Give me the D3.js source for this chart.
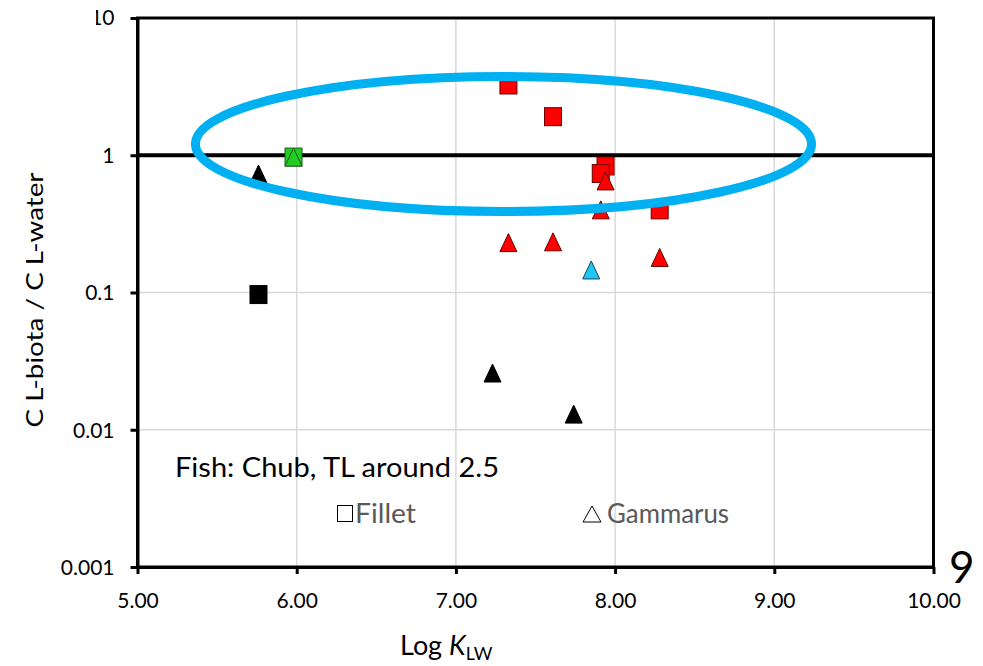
<!DOCTYPE html>
<html>
<head>
<meta charset="utf-8">
<script src="https://cdn.jsdelivr.net/npm/d3@7/dist/d3.min.js"></script>
<style>
  html, body { margin: 0; padding: 0; background: #fff; }
  svg { display: block; }
  text { font-family: Lato, "Open Sans", sans-serif; }
</style>
</head>
<body>
<svg id="chart" width="983" height="666"></svg>
<script>
// ---- data ----
const xTicks = [5, 6, 7, 8, 9, 10];
const xTickLabels = ["5.00", "6.00", "7.00", "8.00", "9.00", "10.00"];
const yTicks = [0.001, 0.01, 0.1, 1, 10];
const yTickLabels = ["0.001", "0.01", "0.1", "1", "10"];

// Fillet (squares)
const filletX = [5.76, 5.98, 7.33, 7.61, 7.94, 7.91, 8.28];
const filletY = [0.0966, 0.97, 3.25, 1.91, 0.835, 0.736, 0.40];
const filletGroup = ["black", "green", "red", "red", "red", "red", "red"];

// Gammarus (triangles)
const gammarusX = [5.76, 5.98, 7.33, 7.61, 7.91, 7.94, 8.28, 7.85, 7.23, 7.74];
const gammarusY = [0.73, 0.97, 0.231, 0.234, 0.40, 0.65, 0.18, 0.146, 0.0259, 0.0130];
const gammarusGroup = ["black", "green", "red", "red", "red", "red", "red", "cyan", "black", "black"];

const referenceLine = 1;
// highlight ellipse (data units)
const ellipseXRange = [5.364, 9.234];
const ellipseYRange = [0.389, 3.75];

const fills = { black: "#000000", green: "#22cc22", red: "#ff0000", cyan: "#1ec8f5" };
const strokes = { black: "#000000", green: "#1d5c1d", red: "#6b0000", cyan: "#1b3f5e" };

// ---- layout ----
const W = 983, H = 666;
const margin = { left: 137.5, right: 49.5, top: 18, bottom: 99 };
const svg = d3.select("#chart");

const x = d3.scaleLinear().domain([5, 10]).range([margin.left, W - margin.right]);
const y = d3.scaleLog().domain([0.001, 10]).range([H - margin.bottom, margin.top]);

// gridlines
const grid = svg.append("g");
grid.selectAll("line.vx").data(xTicks.slice(1, -1)).enter().append("line")
  .attr("x1", d => x(d)).attr("x2", d => x(d))
  .attr("y1", y(10)).attr("y2", y(0.001))
  .attr("stroke", "#d9d9d9").attr("stroke-width", 1.5);
grid.selectAll("line.hy").data(yTicks.slice(1, -1)).enter().append("line")
  .attr("x1", x(5)).attr("x2", x(10))
  .attr("y1", d => y(d)).attr("y2", d => y(d))
  .attr("stroke", "#d9d9d9").attr("stroke-width", 1.5);

// frame
svg.append("rect")
  .attr("x", x(5)).attr("y", y(10))
  .attr("width", x(10) - x(5)).attr("height", y(0.001) - y(10))
  .attr("fill", "none").attr("stroke", "#000").attr("stroke-width", 3);

// axes
const xAxis = d3.axisBottom(x).tickValues(xTicks)
  .tickFormat((d, i) => xTickLabels[i]).tickSize(7).tickSizeOuter(0);
const gx = svg.append("g").attr("transform", `translate(0,${y(0.001)})`).call(xAxis);
gx.select(".domain").attr("stroke-width", 3);
gx.selectAll(".tick line").attr("stroke-width", 3);
gx.selectAll(".tick text").attr("font-size", 21).attr("dy", "0").attr("y", 41)
  .attr("fill", "#000").attr("font-family", "Lato, sans-serif");

const yAxis = d3.axisLeft(y).tickValues(yTicks)
  .tickFormat((d, i) => yTickLabels[i]).tickSize(7).tickSizeOuter(0);
const gy = svg.append("g").attr("transform", `translate(${x(5)},0)`).call(yAxis);
gy.select(".domain").attr("stroke-width", 3);
gy.selectAll(".tick line").attr("stroke-width", 3);
gy.selectAll(".tick text").attr("font-size", 21).attr("x", -23).attr("dy", "0.35em")
  .attr("fill", "#000").attr("font-family", "Lato, sans-serif");

// the top label is partly cut off in the reference
svg.append("clipPath").attr("id", "topclip").append("rect")
  .attr("x", 96).attr("y", 0).attr("width", 60).attr("height", 40);
gy.selectAll(".tick").filter(d => d === 10).each(function () {
  const g = d3.select(this).select("text");
  const label = g.node().textContent;
  g.remove();
  svg.append("text")
    .attr("x", x(5) - 23).attr("y", y(10)).attr("dy", "0.35em")
    .attr("text-anchor", "end").attr("font-size", 21)
    .attr("font-family", "Lato, sans-serif").attr("fill", "#000")
    .attr("clip-path", "url(#topclip)")
    .text(label);
});

// reference line at 1
svg.append("line")
  .attr("x1", x(5)).attr("x2", x(10))
  .attr("y1", y(referenceLine)).attr("y2", y(referenceLine))
  .attr("stroke", "#000").attr("stroke-width", 4);

// squares
const sqW = 17, sqH = 18;
const filletData = filletX.map((v, i) => ({ x: v, y: filletY[i], g: filletGroup[i] }));
svg.append("g").selectAll("rect").data(filletData).enter().append("rect")
  .attr("x", d => x(d.x) - sqW / 2).attr("y", d => y(d.y) - sqH / 2)
  .attr("width", sqW).attr("height", sqH)
  .attr("fill", d => fills[d.g]).attr("stroke", d => strokes[d.g]).attr("stroke-width", 1);

// triangles
const trW = 17, trH = 18;
const triPath = `M0,${-trH / 2} L${trW / 2},${trH / 2} L${-trW / 2},${trH / 2} Z`;
const gammarusData = gammarusX.map((v, i) => ({ x: v, y: gammarusY[i], g: gammarusGroup[i] }));
svg.append("g").selectAll("path").data(gammarusData).enter().append("path")
  .attr("d", triPath)
  .attr("transform", d => `translate(${x(d.x)},${y(d.y)})`)
  .attr("fill", d => fills[d.g]).attr("stroke", d => strokes[d.g]).attr("stroke-width", 1);

// highlight ellipse
const ex0 = x(ellipseXRange[0]), ex1 = x(ellipseXRange[1]);
const ey0 = y(ellipseYRange[1]), ey1 = y(ellipseYRange[0]);
svg.append("ellipse")
  .attr("cx", (ex0 + ex1) / 2).attr("cy", (ey0 + ey1) / 2)
  .attr("rx", (ex1 - ex0) / 2).attr("ry", (ey1 - ey0) / 2)
  .attr("fill", "none").attr("stroke", "#00b0f0").attr("stroke-width", 9);

// annotations
svg.append("text").attr("x", 175).attr("y", 477)
  .attr("font-size", 27).attr("fill", "#000")
  .attr("textLength", 324).attr("lengthAdjust", "spacingAndGlyphs")
  .text("Fish: Chub, TL around 2.5");

svg.append("rect").attr("x", 337.5).attr("y", 505.5).attr("width", 15).attr("height", 16)
  .attr("fill", "none").attr("stroke", "#000").attr("stroke-width", 1);
svg.append("text").attr("x", 355).attr("y", 523)
  .attr("font-size", 27).attr("fill", "#595959")
  .attr("textLength", 61).attr("lengthAdjust", "spacingAndGlyphs")
  .text("Fillet");

svg.append("path").attr("d", "M592,506 L601,522 L583,522 Z")
  .attr("fill", "none").attr("stroke", "#000").attr("stroke-width", 1);
svg.append("text").attr("x", 607).attr("y", 523)
  .attr("font-size", 27).attr("fill", "#595959")
  .attr("textLength", 122).attr("lengthAdjust", "spacingAndGlyphs")
  .text("Gammarus");

// panel number
svg.append("text").attr("x", 949).attr("y", 583)
  .attr("font-size", 44).attr("fill", "#000").text("9");

// axis titles
const xt = svg.append("text").attr("x", 400).attr("y", 655)
  .attr("font-size", 27).attr("fill", "#000");
xt.append("tspan").text("Log ");
xt.append("tspan").attr("font-style", "italic").text("K");
xt.append("tspan").attr("font-size", 18).attr("dy", 5).text("LW");

svg.append("text")
  .attr("transform", "translate(43,300) rotate(-90)")
  .attr("text-anchor", "middle").attr("font-size", 24).attr("fill", "#000")
  .attr("textLength", 255).attr("lengthAdjust", "spacingAndGlyphs")
  .text("C L-biota / C L-water");
</script>
</body>
</html>
